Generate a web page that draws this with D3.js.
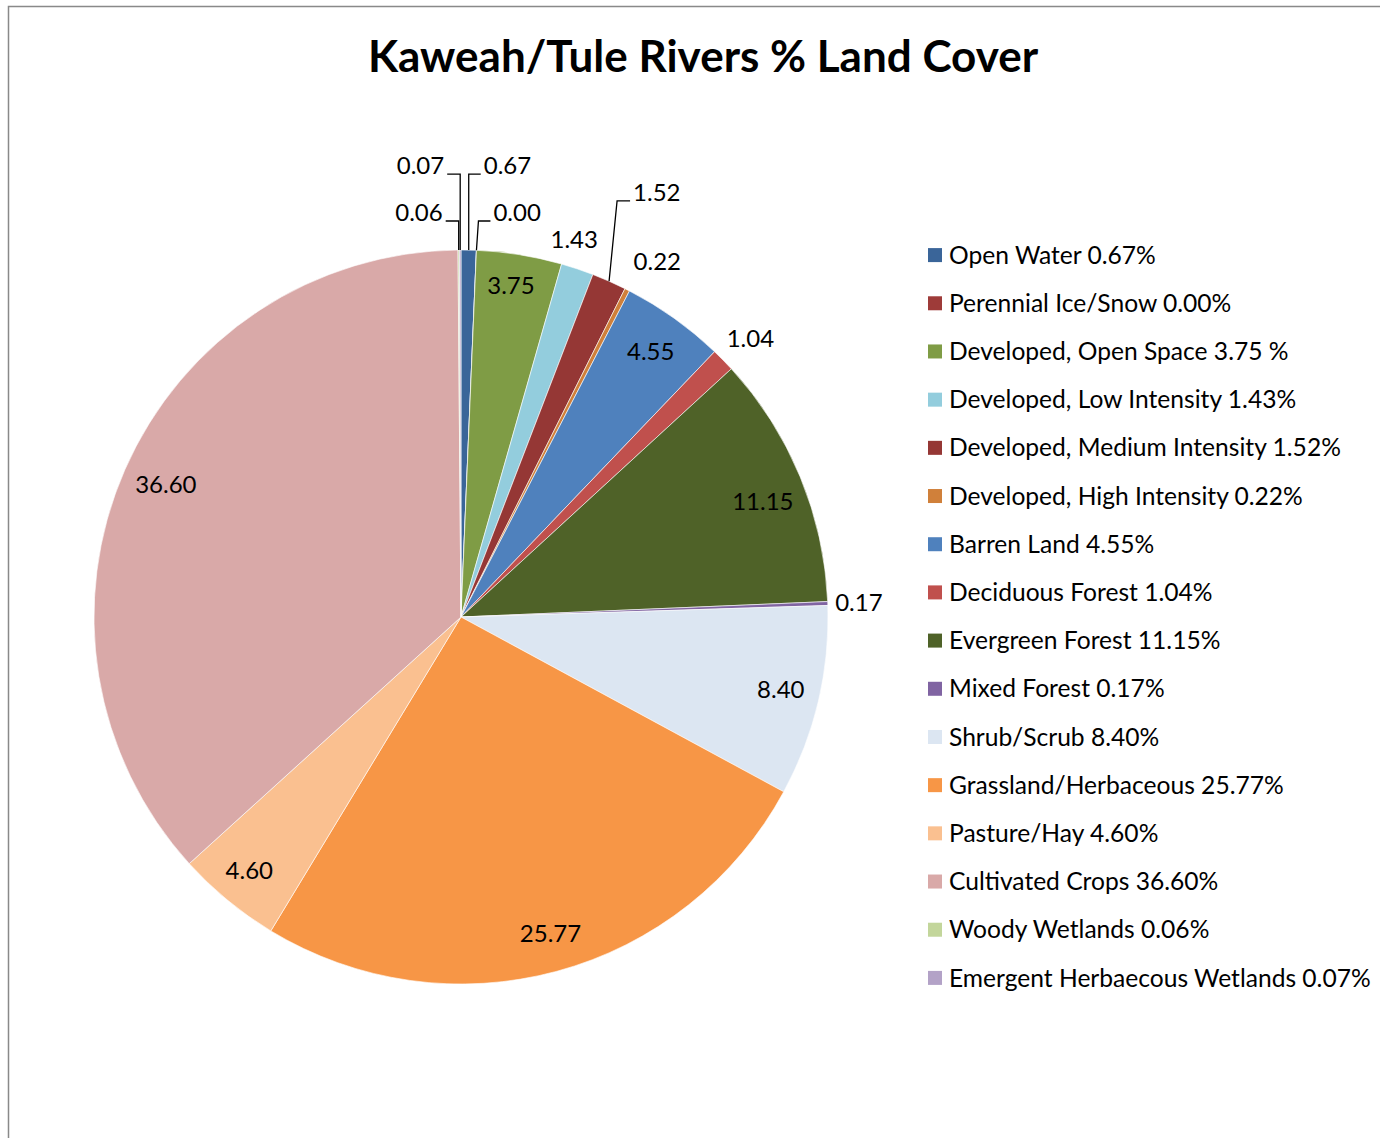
<!DOCTYPE html>
<html><head><meta charset="utf-8">
<script src="https://cdn.jsdelivr.net/npm/d3@7/dist/d3.min.js"></script>
<style>body{margin:0;background:#fff}svg{display:block}</style>
</head><body>
<script>
const categories = ["Open Water","Perennial Ice/Snow","Developed, Open Space","Developed, Low Intensity","Developed, Medium Intensity","Developed, High Intensity","Barren Land","Deciduous Forest","Evergreen Forest","Mixed Forest","Shrub/Scrub","Grassland/Herbaceous","Pasture/Hay","Cultivated Crops","Woody Wetlands","Emergent Herbaecous Wetlands"];
const values = [0.67,0.00,3.75,1.43,1.52,0.22,4.55,1.04,11.15,0.17,8.40,25.77,4.60,36.60,0.06,0.07];
const legendLabels = ["Open Water 0.67%","Perennial Ice/Snow 0.00%","Developed, Open Space 3.75 %","Developed, Low Intensity 1.43%","Developed, Medium Intensity 1.52%","Developed, High Intensity 0.22%","Barren Land 4.55%","Deciduous Forest 1.04%","Evergreen Forest 11.15%","Mixed Forest 0.17%","Shrub/Scrub 8.40%","Grassland/Herbaceous 25.77%","Pasture/Hay 4.60%","Cultivated Crops 36.60%","Woody Wetlands 0.06%","Emergent Herbaecous Wetlands 0.07%"];
const colors = ["#3A6599","#9E3B39","#7F9C45","#93CDDD","#953735","#D0803A","#4F81BD","#C0504D","#4F6228","#8064A2","#DCE6F2","#F79646","#FAC090","#D9A9A8","#C3D69B","#B3A2C7"];
const title = "Kaweah/Tule Rivers % Land Cover";

// label placement: "in" inside, "out" outside, "L" with leader line
const labelPlacement = ["L","L","in","out","L","out","in","out","in","out","in","in","in","in","L","L"];
// small label nudges [dx, dy] in px (layout only)
const labelNudge = {2:[-2,-9],3:[-13,0],5:[16,0],7:[5,0],8:[0,9],10:[2,-3],11:[4,1],12:[-4,2],13:[4,-1]};
const leaders = {
  0: {ey:-1.207, side: 1, len:12, ex:0},
  1: {ey:-1.079, side: 1, len:12, ex:2},
  4: {ey:-1.134, side: 1, len:13, ex:8},
  14:{ey:-1.079, side:-1, len:13, ex:0},
  15:{ey:-1.207, side:-1, len:13, ex:0}
};

const W=1380,H=1138, cx=461, cy=617, R=367;
const svg=d3.select("body").append("svg").attr("width",W).attr("height",H);
svg.append("path").attr("d",`M8.5,${H} V6.5 H${W}`).attr("fill","none").attr("stroke","#898989").attr("stroke-width",1.5);

const font = "Lato, 'Open Sans', sans-serif";
svg.append("text").attr("x",703).attr("y",72).attr("text-anchor","middle")
  .attr("font-family",font).attr("font-weight","bold").attr("font-size",44)
  .attr("fill","#000").text(title);

const data = categories.map((c,i)=>({c, v:values[i], i}));
const pie = d3.pie().sort(null).value(d=>d.v);
const arcs = pie(data);
const arc = d3.arc().innerRadius(0).outerRadius(R);
const g = svg.append("g").attr("transform",`translate(${cx},${cy})`);
g.selectAll("path.s").data(arcs).join("path").attr("class","s")
  .attr("d",arc).attr("fill",d=>colors[d.data.i]).attr("stroke","#fff").attr("stroke-width",0.6);

const fmt = d3.format(".2f");
const fs = 24;
arcs.forEach(a=>{
  const i=a.data.i, p=labelPlacement[i];
  const mid=(a.startAngle+a.endAngle)/2;
  const txt=fmt(a.data.v);
  const nd = labelNudge[i]||[0,0];
  if(p==="in"||p==="out"){
    const r = p==="in"? R*0.89 : R*1.085;
    g.append("text").attr("x",r*Math.sin(mid)+nd[0]).attr("y",-r*Math.cos(mid)+nd[1]).attr("dy","0.35em")
      .attr("text-anchor","middle").attr("font-family",font).attr("font-size",fs).attr("fill","#000").text(txt);
  } else {
    const L=leaders[i];
    const ax=R*Math.sin(mid), ay=-R*Math.cos(mid);
    const exx=ax+L.ex, eyy=L.ey*R;
    const hx=exx+L.side*L.len;
    g.append("path").attr("d",`M${ax},${ay} L${exx},${eyy} L${hx},${eyy}`).attr("fill","none").attr("stroke","#000").attr("stroke-width",1.3);
    g.append("text").attr("x",hx+L.side*3).attr("y",eyy-8).attr("dy","0.35em")
      .attr("text-anchor",L.side>0?"start":"end").attr("font-family",font).attr("font-size",fs).attr("fill","#000").text(txt);
  }
});

const ly = d3.scaleBand().domain(d3.range(categories.length)).range([231,1002]);
const lg = svg.append("g");
legendLabels.forEach((t,i)=>{
  const y = ly(i)+ly.bandwidth()/2;
  lg.append("rect").attr("x",928).attr("y",y-7).attr("width",14).attr("height",14).attr("fill",colors[i]);
  lg.append("text").attr("x",949).attr("y",y).attr("dy","0.35em").attr("font-family",font).attr("font-size",24.6).attr("fill","#000").text(t);
});
</script>
</body></html>
